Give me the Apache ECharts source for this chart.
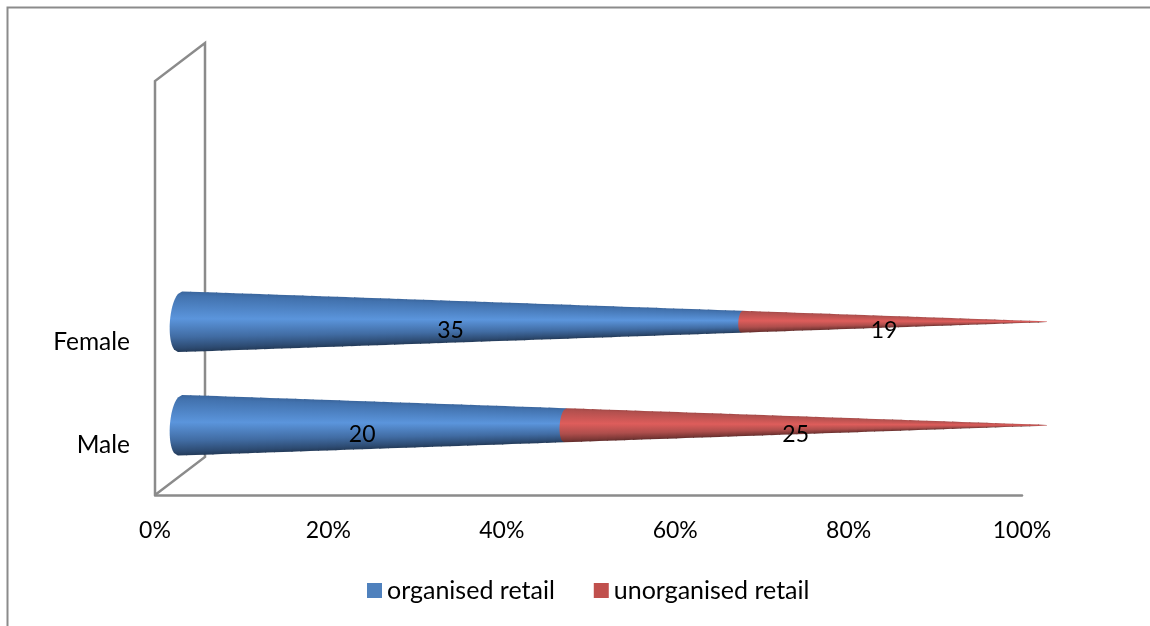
<!DOCTYPE html>
<html>
<head>
<meta charset="utf-8">
<script src="https://cdn.jsdelivr.net/npm/echarts@6/dist/echarts.min.js"></script>
<style>html,body{margin:0;padding:0;background:#fff}#c{width:1150px;height:626px}</style>
</head>
<body>
<div id="c"></div>
<script>
var categories = ['Male', 'Female', '', ''];
var organised = [20, 35];
var unorganised = [25, 19];
var xTicks = { min: 0, max: 100, interval: 20 };
var seriesNames = ['organised retail', 'unorganised retail'];
var seriesColors = ['#4f81bd', '#c0504d'];

var FONT = 'Lato';
var TEXT = '#000';
var FRAME = '#8b8b8b';
var SHADES = [
  [[0, '#3a659c'], [0.07, '#4272ae'], [0.45, '#5b95dc'], [0.75, '#416ca3'], [0.93, '#2d4b72'], [1, '#233a58']],
  [[0, '#a04745'], [0.07, '#b2504e'], [0.45, '#de5d5b'], [0.75, '#ae4e4c'], [0.93, '#7c3836'], [1, '#602c2b']]
];
var FRAME_DX = 50, FRAME_DY = -38;
var CONE_DX = 25, CONE_DY = -18;
var LABEL_X = 14.5, LABEL_Y = -9;
var SLICE_STEP = 1;

function gradient(seriesIndex) {
  return {
    type: 'linear', x: 0, y: 0, x2: 0, y2: 1,
    colorStops: SHADES[seriesIndex].map(function (s) { return { offset: s[0], color: s[1] }; })
  };
}

function coneRender(seriesIndex) {
  return function (params, api) {
    var cat = api.value(1);
    var i = params.dataIndex;
    var total = organised[i] + unorganised[i];
    var from = seriesIndex === 0 ? 0 : organised[i] / total * 100;
    var to = seriesIndex === 0 ? organised[i] / total * 100 : 100;
    var R = api.size([0, 1])[1] * 0.29;
    function pt(v, t) {
      var c = api.coord([v, cat]);
      var r = R * (1 - v / 100) + 0.35;
      return [
        c[0] + CONE_DX - (r / 3) * Math.sqrt(Math.max(0, 1 - t * t)) - 0.07 * r * t,
        c[1] + CONE_DY + r * t
      ];
    }
    var fill = gradient(seriesIndex);
    var children = [];
    var n = Math.max(1, Math.round((to - from) / SLICE_STEP));
    for (var k = 0; k < n; k++) {
      var v0 = from + (to - from) * k / n;
      var v1 = from + (to - from) * (k + 1) / n;
      var vEnd = Math.min(to, v1 + 0.06);
      var pts = [];
      if (k === 0) {
        for (var a = 0; a <= 24; a++) {
          pts.push(pt(v0, 1 - 2 * a / 24));
        }
      } else {
        pts.push(pt(v0 - 0.06, 1), pt(v0 - 0.06, -1));
      }
      pts.push(pt(vEnd, -1), pt(vEnd, 1));
      children.push({ type: 'polygon', shape: { points: pts }, style: { fill: fill } });
    }
    var mid = api.coord([(from + to) / 2, cat]);
    children.push({
      type: 'text',
      z2: 100,
      style: {
        x: mid[0] + LABEL_X, y: mid[1] + LABEL_Y,
        text: String(api.value(0)),
        font: '23px ' + FONT,
        fill: TEXT, align: 'center', verticalAlign: 'middle'
      }
    });
    return { type: 'group', children: children };
  };
}

function frameRender(params, api) {
  var cs = params.coordSys;
  var x0 = cs.x, yTop = cs.y, yBot = cs.y + cs.height;
  return {
    type: 'polyline',
    shape: { points: [[x0, yBot], [x0, yTop], [x0 + FRAME_DX, yTop + FRAME_DY], [x0 + FRAME_DX, yBot + FRAME_DY], [x0, yBot]] },
    style: { stroke: FRAME, lineWidth: 2.5, fill: null }
  };
}

function rows(values) { return values.map(function (v, i) { return [v, i]; }); }

var chart = echarts.init(document.getElementById('c'), null, { renderer: 'canvas' });
chart.setOption({
  animation: false,
  backgroundColor: '#fff',
  grid: { left: 155, right: 128, top: 81, bottom: 131 },
  legend: {
    left: 362, top: 573,
    itemWidth: 15, itemHeight: 15, itemGap: 39,
    icon: 'rect',
    data: seriesNames,
    textStyle: { fontFamily: FONT, fontSize: 25, color: TEXT }
  },
  xAxis: {
    type: 'value', min: xTicks.min, max: xTicks.max, interval: xTicks.interval,
    axisLine: { show: true, lineStyle: { color: FRAME, width: 2.5 } },
    axisTick: { show: false }, splitLine: { show: false },
    axisLabel: { formatter: '{value}%', fontFamily: FONT, fontSize: 23, color: TEXT, margin: 24 }
  },
  yAxis: {
    type: 'category', data: categories,
    axisLine: { show: false }, axisTick: { show: false }, splitLine: { show: false },
    axisLabel: {
      margin: 25, interval: 0,
      formatter: function (v) { return v ? '{a|' + v + '}' : ''; },
      rich: { a: { fontFamily: FONT, fontSize: 24.5, color: TEXT, padding: [4, 0, 0, 0] } }
    }
  },
  series: [
    { type: 'custom', name: 'frame', silent: true, z: 1, renderItem: frameRender, data: [[0, 0]], encode: { x: 0, y: 1 }, clip: false },
    { type: 'custom', name: seriesNames[0], z: 2, itemStyle: { color: seriesColors[0] }, renderItem: coneRender(0), data: rows(organised), encode: { x: 0, y: 1 } },
    { type: 'custom', name: seriesNames[1], z: 3, itemStyle: { color: seriesColors[1] }, renderItem: coneRender(1), data: rows(unorganised), encode: { x: 0, y: 1 } }
  ],
  graphic: [{
    type: 'polyline', silent: true,
    shape: { points: [[7.5, 630], [7.5, 7.5], [1155, 7.5]] },
    style: { stroke: FRAME, lineWidth: 2, fill: null }
  }]
});
</script>
</body>
</html>
